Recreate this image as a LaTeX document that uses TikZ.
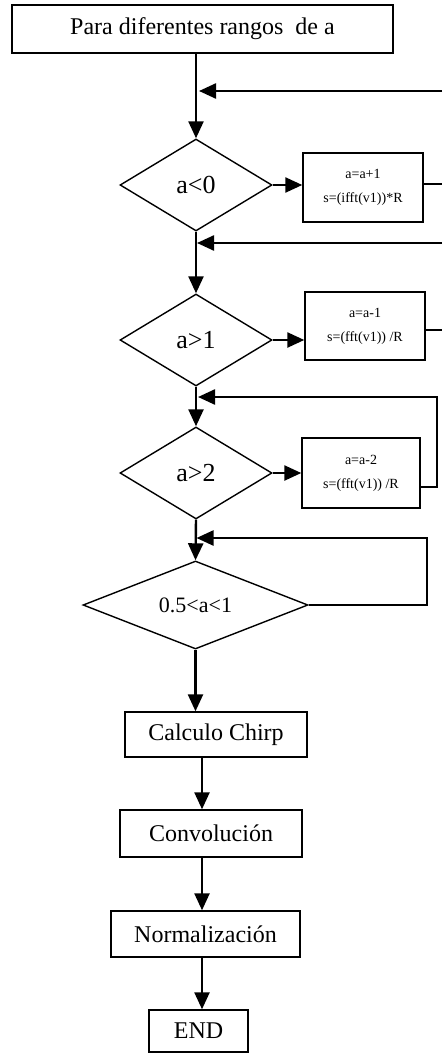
\documentclass[tikz,border=0pt]{standalone}
\usepackage{fontspec}
\setmainfont{Liberation Serif}
\usetikzlibrary{shapes.geometric,arrows.meta,calc}
\begin{document}
\begin{tikzpicture}[x=1pt,y=-1pt,
  box/.style={draw,line width=1.4pt,rectangle,inner sep=0pt,font=\fontsize{24}{28}\selectfont},
  smallbox/.style={draw,line width=1.4pt,rectangle,inner sep=0pt,align=center,font=\fontsize{14}{24}\selectfont},
  dec/.style={draw,line width=1.4pt,diamond,inner sep=0pt,font=\fontsize{26}{28}\selectfont},
  conn/.style={line width=2.4pt},
  arr/.style={line width=2.4pt,-{Triangle[length=17pt,width=15pt]}}]
\useasboundingbox (0,0) rectangle (442,1057);
\node[box,minimum width=381,minimum height=48] (start) at (202.5,29) {Para diferentes rangos\ \ de a};
\node[dec,minimum width=152,minimum height=92] (d1) at (196,185) {a<0};
\node[smallbox,minimum width=120,minimum height=69] (b1) at (363,187.5) {a=a+1\\s=(ifft(v1))*R};
\node[dec,minimum width=152,minimum height=92] (d2) at (196,340) {a>1};
\node[smallbox,minimum width=120,minimum height=68] (b2) at (365,326) {a=a-1\\s=(fft(v1)) /R};
\node[dec,minimum width=152,minimum height=92] (d3) at (196,473) {a>2};
\node[smallbox,minimum width=118,minimum height=70] (b3) at (361,473) {a=a-2\\s=(fft(v1)) /R};
\node[dec,minimum width=225,minimum height=85,font=\fontsize{22}{24}\selectfont] (d4) at (195.5,605) {0.5<a<1};
\node[box,minimum width=182,minimum height=45] (c1) at (216,734.5) {Calculo Chirp};
\node[box,minimum width=182,minimum height=47] (c2) at (211,833.5) {Convolución};
\node[box,minimum width=189,minimum height=46] (c3) at (205.5,934) {Normalización};
\node[box,minimum width=99,minimum height=42] (c4) at (198.5,1031) {END};
\coordinate (ax) at (202,0);
\coordinate (r1) at (442,91);
\coordinate (r1b) at (442,184);
\coordinate (r2) at (442,243);
\coordinate (r2b) at (442,330);
\coordinate (r3) at (437,397);
\coordinate (r3b) at (437,487);
\coordinate (r4) at (427,538);
\coordinate (r4b) at (427,605);
% main line
\draw[arr] (d1.north |- start.south) -- (d1.north);
\draw[arr] (r1) -- ($(r1 -| d1.north)+(3,0)$);
\draw[arr] (d1.east) -- (d1.east -| b1.west);
\draw[conn] (b1.east |- r1b) -- (r1b);
\draw[arr] (d1.south) -- (d2.north);
\draw[arr] (r2) -- ($(r2 -| d1.south)+(1,0)$);
\draw[arr] (d2.east) -- (d2.east -| b2.west);
\draw[conn] (b2.east |- r2b) -- (r2b);
\draw[arr] (d2.south) -- (d3.north);
\draw[arr] (b3.east |- r3b) -- (r3b) -- (r3) -- ($(r3 -| d2.south)+(2,0)$);
\draw[arr] (d3.east) -- (d3.east -| b3.west);
\draw[arr] (d3.south) -- (d4.north);
\draw[arr] (d4.east) -- (r4b) -- (r4) -- ($(r4 -| d4.north)+(1,0)$);
\draw[arr] (d4.south) -- (d4.south |- c1.north);
\draw[arr] (c1.south -| ax) -- (c2.north -| ax);
\draw[arr] (c2.south -| ax) -- (c3.north -| ax);
\draw[arr] (c3.south -| ax) -- (c4.north -| ax);
\end{tikzpicture}
\end{document}
